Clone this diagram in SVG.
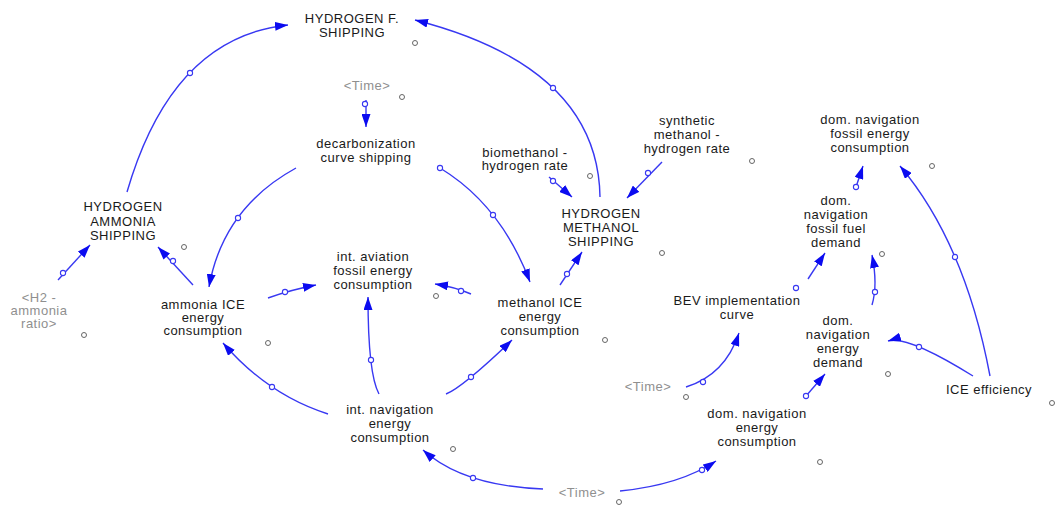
<svg xmlns="http://www.w3.org/2000/svg" width="1060" height="506" viewBox="0 0 1060 506">
<defs>
<style>
text{font-family:"Liberation Sans",Arial,sans-serif;font-size:13px;letter-spacing:0.5px;fill:#1a1a1a;text-anchor:middle}
text.g{fill:#8f8f8f}
.lk{fill:none;stroke:#3838f2;stroke-width:1.4;marker-end:url(#ah)}
.mc{fill:#fff;stroke:#3838f2;stroke-width:1.1}
.nc{fill:#fff;stroke:#666;stroke-width:1}
</style>
<marker id="ah" viewBox="0 0 13 9" refX="13" refY="4.5" markerWidth="13" markerHeight="9" orient="auto" markerUnits="userSpaceOnUse"><path d="M0,0 L13,4.5 L0,9 z" fill="#0b0bf0"/></marker>
</defs>
<rect width="1060" height="506" fill="#fff"/>
<g id="connectors">
<path class="lk" d="M127,192 Q172,37 288,25"/>
<path class="lk" d="M600,197 Q598,67 415,20"/>
<path class="lk" d="M296,168 Q223,208 209,287"/>
<path class="lk" d="M440,168 Q501,205 530,282"/>
<path class="lk" d="M366,100 L366,127"/>
<path class="lk" d="M549,177 L572,197"/>
<path class="lk" d="M662,162 L627,198"/>
<path class="lk" d="M560,285 L582,252"/>
<path class="lk" d="M58,280 L90,245"/>
<path class="lk" d="M193,285 L158,247"/>
<path class="lk" d="M268,298 Q290,290 316,285"/>
<path class="lk" d="M471,294 Q455,287 435,284"/>
<path class="lk" d="M379,394 Q368,374 368,297"/>
<path class="lk" d="M328,414 Q268,395 223,343"/>
<path class="lk" d="M446,394 Q463,387 512,340"/>
<path class="lk" d="M543,489 Q463,486 423,450"/>
<path class="lk" d="M620,491 Q680,485 716,461"/>
<path class="lk" d="M686,387 Q725,375 739,333"/>
<path class="lk" d="M806,396 L825,374"/>
<path class="lk" d="M808,279 L825,253"/>
<path class="lk" d="M872,305 Q878,285 872,255"/>
<path class="lk" d="M856,187 L863,166"/>
<path class="lk" d="M990,376 Q965,243 900,166"/>
<path class="lk" d="M973,376 Q907,335 888,341"/>
<circle class="mc" cx="190" cy="73" r="2.6"/>
<circle class="mc" cx="553" cy="88" r="2.6"/>
<circle class="mc" cx="238" cy="218" r="2.6"/>
<circle class="mc" cx="440" cy="168" r="2.6"/>
<circle class="mc" cx="493" cy="215" r="2.6"/>
<circle class="mc" cx="365" cy="104" r="2.6"/>
<circle class="mc" cx="553" cy="181" r="2.6"/>
<circle class="mc" cx="648" cy="173" r="2.6"/>
<circle class="mc" cx="567" cy="274" r="2.6"/>
<circle class="mc" cx="63" cy="273" r="2.6"/>
<circle class="mc" cx="173" cy="261" r="2.6"/>
<circle class="mc" cx="285" cy="292" r="2.6"/>
<circle class="mc" cx="461" cy="291" r="2.6"/>
<circle class="mc" cx="371" cy="360" r="2.6"/>
<circle class="mc" cx="272" cy="387" r="2.6"/>
<circle class="mc" cx="471" cy="377" r="2.6"/>
<circle class="mc" cx="473" cy="478" r="2.6"/>
<circle class="mc" cx="702" cy="470" r="2.6"/>
<circle class="mc" cx="703" cy="382" r="2.6"/>
<circle class="mc" cx="806" cy="396" r="2.6"/>
<circle class="mc" cx="796" cy="288" r="2.6"/>
<circle class="mc" cx="875" cy="292" r="2.6"/>
<circle class="mc" cx="856" cy="187" r="2.6"/>
<circle class="mc" cx="955" cy="257" r="2.6"/>
<circle class="mc" cx="919" cy="347" r="2.6"/>
</g>
<g id="node-circles">
<circle class="nc" cx="415" cy="43" r="2.5"/>
<circle class="nc" cx="402" cy="97" r="2.5"/>
<circle class="nc" cx="184" cy="247" r="2.5"/>
<circle class="nc" cx="590" cy="176" r="2.5"/>
<circle class="nc" cx="752" cy="161" r="2.5"/>
<circle class="nc" cx="662" cy="253" r="2.5"/>
<circle class="nc" cx="932" cy="166" r="2.5"/>
<circle class="nc" cx="882" cy="254" r="2.5"/>
<circle class="nc" cx="84" cy="335" r="2.5"/>
<circle class="nc" cx="268" cy="343" r="2.5"/>
<circle class="nc" cx="436" cy="296" r="2.5"/>
<circle class="nc" cx="453" cy="449" r="2.5"/>
<circle class="nc" cx="605" cy="340" r="2.5"/>
<circle class="nc" cx="686" cy="397" r="2.5"/>
<circle class="nc" cx="888" cy="374" r="2.5"/>
<circle class="nc" cx="820" cy="462" r="2.5"/>
<circle class="nc" cx="619" cy="502" r="2.5"/>
<circle class="nc" cx="1052" cy="403" r="2.5"/>
</g>
<g id="hydrogen-f-shipping"><text x="352" y="23">HYDROGEN F.</text><text x="352" y="37">SHIPPING</text></g>
<g id="time-top"><text class="g" x="367" y="90">&lt;Time&gt;</text></g>
<g id="decarbonization-curve-shipping"><text x="366" y="148">decarbonization</text><text x="366" y="162">curve shipping</text></g>
<g id="biomethanol-hydrogen-rate"><text x="525" y="157">biomethanol -</text><text x="525" y="170">hydrogen rate</text></g>
<g id="synthetic-methanol-hydrogen-rate"><text x="687" y="125">synthetic</text><text x="687" y="139">methanol -</text><text x="687" y="153">hydrogen rate</text></g>
<g id="dom-navigation-fossil-energy-consumption"><text x="870" y="124">dom. navigation</text><text x="870" y="138">fossil energy</text><text x="870" y="152">consumption</text></g>
<g id="hydrogen-ammonia-shipping"><text x="123" y="211">HYDROGEN</text><text x="123" y="225.5">AMMONIA</text><text x="123" y="240">SHIPPING</text></g>
<g id="hydrogen-methanol-shipping"><text x="601" y="218">HYDROGEN</text><text x="601" y="232">METHANOL</text><text x="601" y="246">SHIPPING</text></g>
<g id="dom-navigation-fossil-fuel-demand"><text x="836" y="205">dom.</text><text x="836" y="219">navigation</text><text x="836" y="233">fossil fuel</text><text x="836" y="247">demand</text></g>
<g id="h2-ammonia-ratio"><text class="g" x="39" y="302">&lt;H2 -</text><text class="g" x="39" y="315">ammonia</text><text class="g" x="39" y="328">ratio&gt;</text></g>
<g id="int-aviation-fossil-energy-consumption"><text x="373" y="261">int. aviation</text><text x="373" y="275">fossil energy</text><text x="373" y="289">consumption</text></g>
<g id="ammonia-ice-energy-consumption"><text x="203" y="309">ammonia ICE</text><text x="203" y="322">energy</text><text x="203" y="335">consumption</text></g>
<g id="methanol-ice-energy-consumption"><text x="540" y="307">methanol ICE</text><text x="540" y="321">energy</text><text x="540" y="335">consumption</text></g>
<g id="bev-implementation-curve"><text x="737" y="305">BEV implementation</text><text x="737" y="319">curve</text></g>
<g id="dom-navigation-energy-demand"><text x="838" y="325">dom.</text><text x="838" y="339">navigation</text><text x="838" y="353">energy</text><text x="838" y="367">demand</text></g>
<g id="ice-efficiency"><text x="989" y="394">ICE efficiency</text></g>
<g id="time-mid"><text class="g" x="648" y="391">&lt;Time&gt;</text></g>
<g id="int-navigation-energy-consumption"><text x="390" y="414">int. navigation</text><text x="390" y="428">energy</text><text x="390" y="442">consumption</text></g>
<g id="dom-navigation-energy-consumption"><text x="757" y="418">dom. navigation</text><text x="757" y="432">energy</text><text x="757" y="446">consumption</text></g>
<g id="time-bottom"><text class="g" x="582" y="497">&lt;Time&gt;</text></g>
</svg>
